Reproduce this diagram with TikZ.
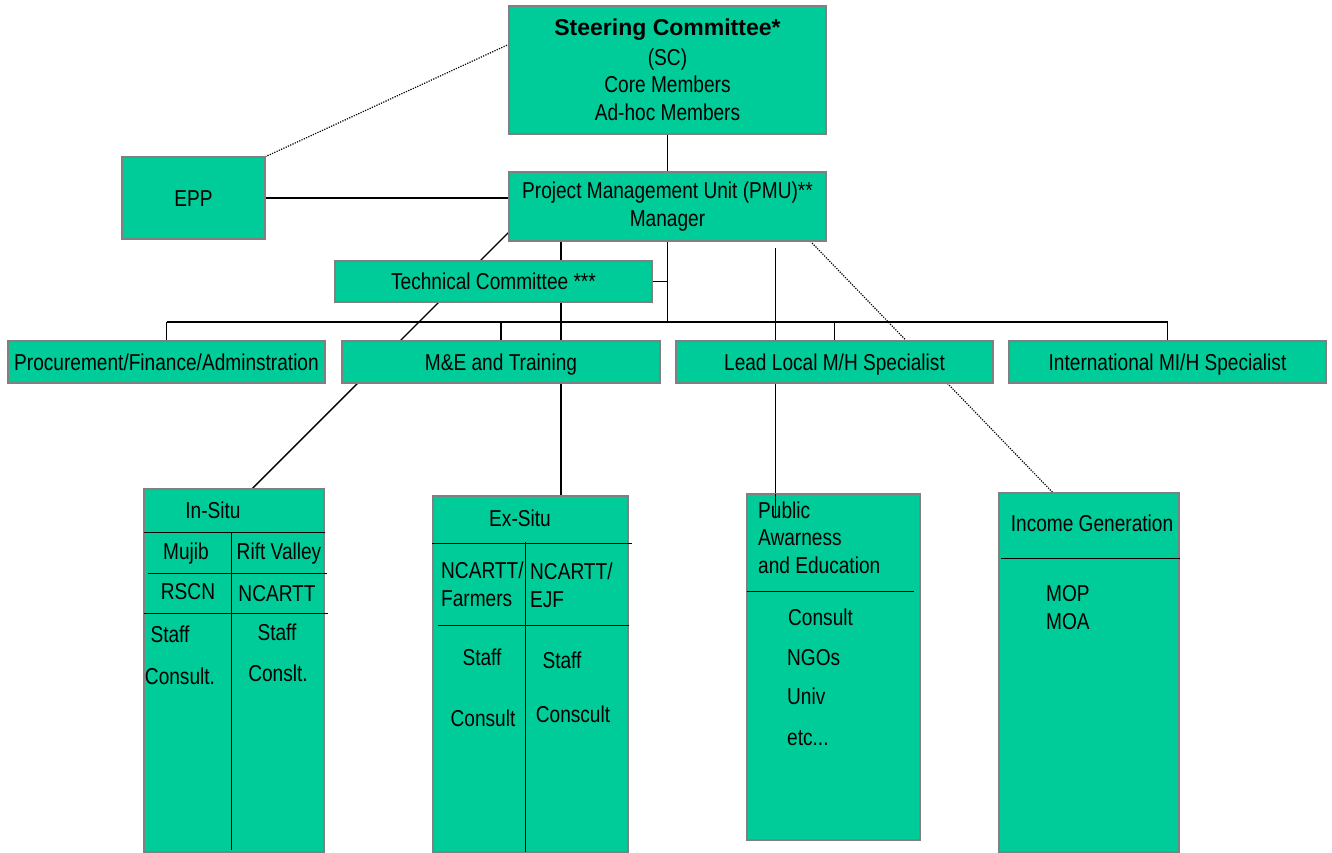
\documentclass[tikz,border=0pt]{standalone}
\usepackage{fontspec}
\setmainfont[FakeStretch=0.83]{Liberation Sans}
\newfontfamily\widesans{Liberation Sans}
\usetikzlibrary{calc}
\definecolor{boxgreen}{RGB}{0,204,153}
\definecolor{boxgray}{RGB}{128,128,128}
\begin{document}
\begin{tikzpicture}[x=1pt,y=-1pt,
  box/.style={draw=boxgray, fill=boxgreen, line width=1.5pt, inner sep=0pt, font=\fontsize{23}{27.5}\selectfont},
  oneline/.style={text height=16.5pt, text depth=0pt},
  ghost/.style={inner sep=0pt, draw=none, fill=none},
  conn/.style={line width=1.3pt, black},
  dotconn/.style={line width=1.2pt, black, dash pattern=on 1.2pt off 1.3pt},
  inner/.style={line width=1.3pt, black},
  t/.style={inner sep=0pt, font=\fontsize{23}{27.5}\selectfont, text height=16.5pt, text depth=0pt}
]
\path[use as bounding box, fill=white] (0,0) rectangle (1332,853);

% --- placement (invisible) ---
\path (667.5,70) node[ghost, minimum width=317, minimum height=128] (sc) {};
\path (193.5,198) node[ghost, minimum width=143, minimum height=82] (epp) {};
\path (667.5,206.5) node[ghost, minimum width=317, minimum height=69] (pmu) {};
\path (493.5,281.5) node[ghost, minimum width=317, minimum height=41] (tc) {};
\path (166.5,362) node[ghost, minimum width=317, minimum height=42] (proc) {};
\path (501,362) node[ghost, minimum width=318, minimum height=42] (me) {};
\path (834.5,362) node[ghost, minimum width=317, minimum height=42] (lead) {};
\path (1167.5,362) node[ghost, minimum width=317, minimum height=42] (intl) {};
\path (234,670.5) node[ghost, minimum width=180, minimum height=363] (insitu) {};
\path (530.5,674) node[ghost, minimum width=195, minimum height=356] (exsitu) {};
\path (833.5,667) node[ghost, minimum width=173, minimum height=346] (public) {};
\path (1089,672.5) node[ghost, minimum width=180, minimum height=359] (income) {};

\coordinate (bus) at (667.5,322);
\coordinate (exin) at ($(exsitu.north west)!0.656!(exsitu.north east)$);
\coordinate (pubin) at ($(public.north west)+(29,0)$);

% --- connectors behind boxes ---
\draw[dotconn] (epp.north east) -- ($(sc.north west)!0.3!(sc.south west)$);
\draw[conn] (sc.south) -- (pmu.north);
\draw[conn] (epp.east) -- (pmu.west |- epp.east);
\draw[conn] ($(pmu.north west)!0.87!(pmu.south west)$) -- ($(insitu.north west)!0.6!(insitu.north east)$);
\draw[conn] (pmu.south -| exin) -- (exin);
\draw[conn] (pmu.south) -- (bus);
\draw[conn] (tc.east) -- (tc.east -| bus);
\draw[conn] (proc.north |- bus) -- (intl.north |- bus);
\draw[conn] (proc.north |- bus) -- (proc.north);
\draw[conn] (me.north |- bus) -- (me.north);
\draw[conn] (lead.north |- bus) -- (lead.north);
\draw[conn] (intl.north |- bus) -- (intl.north);
\draw[conn, shorten <=7pt] (pmu.south -| pubin) -- (pubin);
\draw[dotconn] ($(pmu.south west)!0.95!(pmu.south east)$) -- ($(income.north west)+(59,5)$);

% --- visible boxes ---
\node[box, minimum width=317, minimum height=128, align=center] (scb) at (sc) {{\widesans\bfseries Steering Committee*}\\[2pt](SC)\\Core Members\\Ad-hoc Members};
\node[box, oneline, minimum width=143, minimum height=82] (eppb) at (epp) {EPP};
\node[box, minimum width=317, minimum height=69, align=center] (pmub) at (pmu) {Project Management Unit (PMU)**\\Manager};
\node[box, oneline, minimum width=317, minimum height=41] (tcb) at (tc) {Technical Committee ***};
\node[box, oneline, minimum width=317, minimum height=42] (procb) at (proc) {Procurement/Finance/Adminstration};
\node[box, oneline, minimum width=318, minimum height=42] (meb) at (me) {M\&E and Training};
\node[box, oneline, minimum width=317, minimum height=42] (leadb) at (lead) {Lead Local M/H Specialist};
\node[box, oneline, minimum width=317, minimum height=42] (intlb) at (intl) {International MI/H Specialist};
\node[box, minimum width=180, minimum height=363] (insitub) at (insitu) {};
\node[box, minimum width=195, minimum height=356] (exsitub) at (exsitu) {};
\node[box, minimum width=173, minimum height=346] (publicb) at (public) {};
\node[box, minimum width=180, minimum height=359] (incomeb) at (income) {};

% line entering the public box
\draw[conn] (pubin) -- ++(0,24);

% --- In-Situ table ---
\draw[inner] ($(insitu.north west)+(0,44)$) -- ++(181,0);
\draw[inner] ($(insitu.north west)+(88,44)$) -- ($(insitu.south west)+(88,-2)$);
\draw[inner] ($(insitu.north west)+(4,85)$) -- ++(179,0);
\draw[inner] ($(insitu.north west)+(0,125)$) -- ++(184,0);
\node[t] (is1) at (213,510) {In-Situ};
\node[t] (is2) at (186,551) {Mujib};
\node[t] (is3) at (279,551) {Rift Valley};
\node[t] (is4) at (188,591) {RSCN};
\node[t] (is5) at (277,593) {NCARTT};
\node[t] (is6) at (170,634) {Staff};
\node[t] (is7) at (180,676) {Consult.};
\node[t] (is8) at (277,632) {Staff};
\node[t] (is9) at (278,673) {Conslt.};

% --- Ex-Situ table ---
\draw[inner] ($(exsitu.north west)+(-1,48)$) -- ++(200,0);
\draw[inner] ($(exsitu.north west)+(93,46)$) -- ($(exsitu.south west)+(93,0)$);
\draw[inner] ($(exsitu.north west)+(5,130)$) -- ++(191,0);
\node[t] (ex1) at (520,518) {Ex-Situ};
\node[t, anchor=west] (ex2) at (441,570) {NCARTT/};
\node[t, anchor=west] (ex3) at (441,598) {Farmers};
\node[t, anchor=west] (ex4) at (530,571) {NCARTT/};
\node[t, anchor=west] (ex5) at (530,599) {EJF};
\node[t] (ex6) at (482,657) {Staff};
\node[t] (ex7) at (483,718) {Consult};
\node[t] (ex8) at (562,660) {Staff};
\node[t] (ex9) at (573,714) {Conscult};

% --- Public Awareness ---
\draw[inner] ($(public.north west)+(0,98)$) -- ++(167,0);
\node[t, anchor=west] (pa1) at (758,510) {Public};
\node[t, anchor=west] (pa2) at (758,537) {Awarness};
\node[t, anchor=west] (pa3) at (758,565) {and Education};
\node[t, anchor=west] (pa4) at (788,617) {Consult};
\node[t, anchor=west] (pa5) at (787,657) {NGOs};
\node[t, anchor=west] (pa6) at (787,696) {Univ};
\node[t, anchor=west] (pa7) at (787,737) {etc...};

% --- Income Generation ---
\draw[inner] ($(income.north west)+(2,66)$) -- ++(179,0);
\node[t] (ig1) at (1092,523) {Income Generation};
\node[t, anchor=west] (ig2) at (1046,593) {MOP};
\node[t, anchor=west] (ig3) at (1046,621) {MOA};
\end{tikzpicture}
\end{document}
